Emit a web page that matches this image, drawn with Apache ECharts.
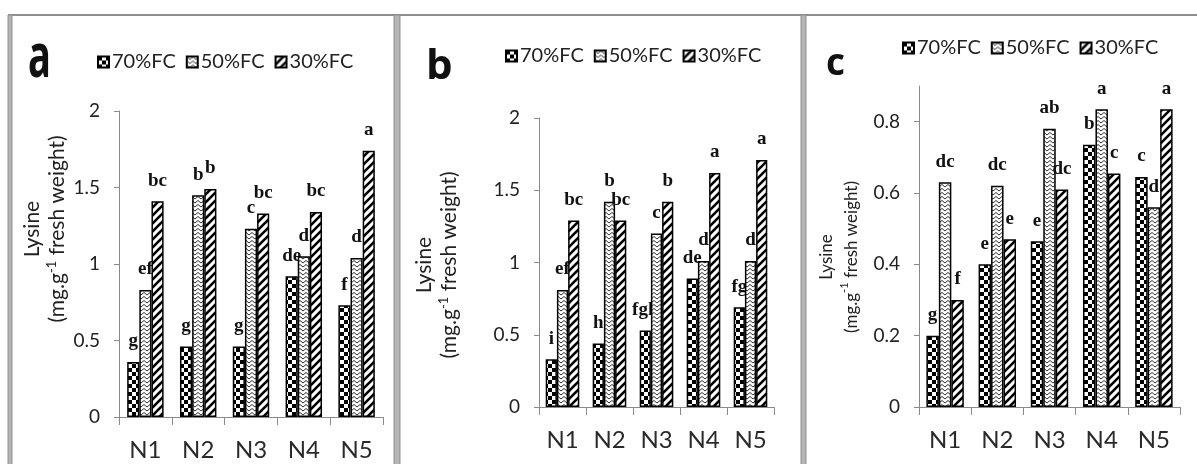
<!DOCTYPE html>
<html><head><meta charset="utf-8">
<script src="https://cdn.jsdelivr.net/npm/echarts@6/dist/echarts.min.js"></script>
<style>html,body{margin:0;padding:0;background:#fff}#c{width:1197px;height:464px}</style>
</head><body><div id="c"></div>
<script>
// ---------- data ----------
const categories = ['N1', 'N2', 'N3', 'N4', 'N5'];
const seriesNames = ['70%FC', '50%FC', '30%FC'];
const panelLetters = ['a', 'b', 'c'];
const yAxisMax = [2, 2, 0.9];
const yAxisInterval = [0.5, 0.5, 0.2];

// panel a
const a70 = [0.36, 0.46, 0.46, 0.92, 0.73];
const a50 = [0.83, 1.45, 1.23, 1.05, 1.04];
const a30 = [1.41, 1.49, 1.33, 1.34, 1.74];
const aLab70 = ['g', 'g', 'g', 'de', 'f'];
const aLab50 = ['ef', 'b', 'c', 'd', 'd'];
const aLab30 = ['bc', 'b', 'bc', 'bc', 'a'];

// panel b
const b70 = [0.33, 0.44, 0.53, 0.89, 0.69];
const b50 = [0.81, 1.42, 1.20, 1.01, 1.01];
const b30 = [1.29, 1.29, 1.42, 1.62, 1.71];
const bLab70 = ['i', 'h', 'fgh', 'de', 'fg'];
const bLab50 = ['ef', 'b', 'c', 'd', 'd'];
const bLab30 = ['bc', 'bc', 'b', 'a', 'a'];

// panel c
const c70 = [0.20, 0.40, 0.465, 0.735, 0.645];
const c50 = [0.63, 0.62, 0.78, 0.835, 0.56];
const c30 = [0.30, 0.47, 0.61, 0.655, 0.835];
const cLab70 = ['g', 'e', 'e', 'b', 'c'];
const cLab50 = ['dc', 'dc', 'ab', 'a', 'd'];
const cLab30 = ['f', 'e', 'dc', 'c', 'a'];

const panelValues = [[a70, a50, a30], [b70, b50, b30], [c70, c50, c30]];
const panelLabels = [[aLab70, aLab50, aLab30], [bLab70, bLab50, bLab30], [cLab70, cLab50, cLab30]];

// ---------- patterns ----------
function makeCanvas(w, h) { const c = document.createElement('canvas'); c.width = w; c.height = h; return c; }
function checker() {
  const c = makeCanvas(8, 8), g = c.getContext('2d');
  g.fillStyle = '#fff'; g.fillRect(0, 0, 8, 8);
  g.fillStyle = '#000'; g.fillRect(0, 0, 4, 4); g.fillRect(4, 4, 4, 4);
  return c;
}
function zigzag() {
  const c = makeCanvas(6, 4), g = c.getContext('2d');
  g.fillStyle = '#fff'; g.fillRect(0, 0, 6, 4);
  g.strokeStyle = '#333'; g.lineWidth = 1;
  g.beginPath(); g.moveTo(0, 0.5); g.lineTo(3, 3); g.lineTo(6, 0.5); g.stroke();
  return c;
}
function diag() {
  const c = makeCanvas(8, 8), g = c.getContext('2d');
  g.fillStyle = '#fff'; g.fillRect(0, 0, 8, 8);
  g.strokeStyle = '#000'; g.lineWidth = 2.6;
  g.beginPath();
  g.moveTo(-2, 10); g.lineTo(10, -2);
  g.moveTo(-6, 6); g.lineTo(6, -6);
  g.moveTo(2, 14); g.lineTo(14, 2);
  g.stroke();
  return c;
}
const patterns = [checker(), zigzag(), diag()];

// ---------- layout ----------
const grids = [
  { left: 119, top: 111, width: 264, height: 306 },
  { left: 539, top: 118, width: 235, height: 289 },
  { left: 919, top: 86, width: 261, height: 321 }
];
const catGaps = ['31%', '28.5%', '28.3%'];
const legendPos = [{ left: 97, top: 52 }, { left: 505, top: 46 }, { left: 902, top: 38 }];

const chart = echarts.init(document.getElementById('c'), null, { renderer: 'canvas' });

const xAxes = [], yAxes = [], series = [], legends = [];
for (let p = 0; p < 3; p++) {
  xAxes.push({
    type: 'category', gridIndex: p, data: categories,
    axisLine: { lineStyle: { color: '#8a8a8a', width: 1 } },
    axisTick: { show: true, length: 8, lineStyle: { color: '#8a8a8a' } },
    axisLabel: { margin: 21, fontFamily: 'Lato', fontSize: 24, color: '#2a2a2a' }
  });
  yAxes.push({
    type: 'value', gridIndex: p, min: 0, max: yAxisMax[p], interval: yAxisInterval[p],
    splitLine: { show: false },
    axisLine: { show: true, lineStyle: { color: '#8a8a8a', width: 1 } },
    axisTick: { show: true, length: 5, lineStyle: { color: '#8a8a8a' } },
    axisLabel: { margin: 19, fontFamily: 'Lato', fontSize: 19, color: '#222', showMaxLabel: p !== 2 }
  });
  for (let s = 0; s < 3; s++) {
    const labs = panelLabels[p][s];
    series.push({
      type: 'bar', name: seriesNames[s], xAxisIndex: p, yAxisIndex: p,
      data: panelValues[p][s], z: 2 + s,
      barGap: '0%', barCategoryGap: catGaps[p],
      itemStyle: { color: { image: patterns[s], repeat: 'repeat' }, borderColor: '#000', borderWidth: 1.5 },
      label: {
        show: true, position: 'top', distance: 11,
        fontFamily: 'Liberation Serif', fontWeight: 'bold', fontSize: 19, color: '#111',
        formatter: (prm) => labs[prm.dataIndex]
      },
      emphasis: { disabled: true }
    });
  }
  legends.push({
    left: legendPos[p].left, top: legendPos[p].top, data: seriesNames, icon: 'rect',
    itemWidth: 11, itemHeight: 11, itemGap: 10, padding: 0, selectedMode: false,
    textStyle: { fontFamily: 'Lato', fontSize: 20, color: '#222', padding: [0, 0, 0, -2] }
  });
}

function axisTitle(x, y, size) {
  return {
    type: 'text', x: x, y: y, rotation: Math.PI / 2, silent: true,
    style: {
      text: '{t|Lysine}\n{t|(mg.g}{s|-1}{t| fresh weight)}',
      textAlign: 'center', textVerticalAlign: 'middle',
      rich: {
        t: { fontFamily: 'Lato', fontSize: size, fill: '#222', lineHeight: 25 },
        s: { fontFamily: 'Lato', fontSize: Math.round(size * 0.62), fill: '#222', lineHeight: 25, verticalAlign: 'top' }
      }
    }
  };
}

const frame = '#8f8f8f';
const graphic = [
  { type: 'line', silent: true, shape: { x1: 8, y1: 15, x2: 1197, y2: 15 }, style: { stroke: frame, lineWidth: 2 } },
  { type: 'rect', silent: true, shape: { x: 8, y: 15, width: 4, height: 460 }, style: { fill: '#b5b5b5', stroke: frame, lineWidth: 1 } },
  { type: 'rect', silent: true, shape: { x: 394, y: 15, width: 6, height: 460 }, style: { fill: '#b5b5b5', stroke: frame, lineWidth: 1 } },
  { type: 'rect', silent: true, shape: { x: 801, y: 15, width: 5, height: 460 }, style: { fill: '#b5b5b5', stroke: frame, lineWidth: 1 } },
  { type: 'text', x: 28, y: 60, scaleY: 1.6, silent: true, style: { text: panelLetters[0], font: 'bold 38px "Open Sans"', fill: '#111', textAlign: 'left', textVerticalAlign: 'middle' } },
  { type: 'text', x: 426, y: 67, silent: true, style: { text: panelLetters[1], font: 'bold 42px "Open Sans"', fill: '#111', textAlign: 'left', textVerticalAlign: 'middle' } },
  { type: 'text', x: 826, y: 64, silent: true, style: { text: panelLetters[2], font: 'bold 37px "Open Sans"', fill: '#111', textAlign: 'left', textVerticalAlign: 'middle' } },
  axisTitle(45, 229, 21),
  axisTitle(437, 265, 21),
  axisTitle(839, 257, 17)
];

chart.setOption({
  animation: false,
  textStyle: { fontFamily: 'Lato' },
  grid: grids,
  xAxis: xAxes,
  yAxis: yAxes,
  legend: legends,
  series: series,
  graphic: graphic
});
</script>
</body></html>
